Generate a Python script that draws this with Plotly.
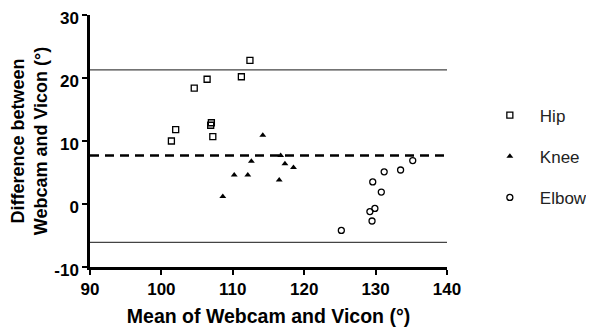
import plotly.graph_objects as go

hip_x = [101.4, 102.0, 104.6, 106.4, 107.0, 106.9, 107.2, 111.2, 112.4]
hip_y = [10.0, 11.8, 18.4, 19.8, 12.9, 12.5, 10.7, 20.2, 22.8]
knee_x = [114.2, 112.6, 108.6, 110.2, 112.1, 116.5, 116.7, 117.3, 118.5]
knee_y = [10.9, 6.8, 1.2, 4.6, 4.6, 3.8, 7.7, 6.4, 5.8]
elbow_x = [125.2, 129.2, 129.9, 129.5, 129.6, 130.8, 131.2, 133.5, 135.2]
elbow_y = [-4.2, -1.2, -0.7, -2.7, 3.5, 1.9, 5.1, 5.4, 6.9]
mean_diff = 7.7
upper_loa = 21.3
lower_loa = -6.1
x_ticks = [90, 100, 110, 120, 130, 140]
y_ticks = [-10, 0, 10, 20, 30]

FONT = "Arial, Liberation Sans, sans-serif"

fig = go.Figure()
fig.add_trace(go.Scatter(x=hip_x, y=hip_y, mode="markers", name="Hip", legendgroup="a",
                         marker=dict(symbol="square-open", size=6, color="black", line=dict(width=1.3))))
fig.add_trace(go.Scatter(x=knee_x, y=knee_y, mode="markers", name="Knee", legendgroup="b",
                         marker=dict(symbol="triangle-up", size=6, color="black")))
fig.add_trace(go.Scatter(x=elbow_x, y=elbow_y, mode="markers", name="Elbow", legendgroup="c",
                         marker=dict(symbol="circle-open", size=6, color="black", line=dict(width=1.3))))

fig.add_shape(type="line", xref="x", yref="y", x0=90, x1=140, y0=upper_loa, y1=upper_loa,
              line=dict(color="#444", width=1.3))
fig.add_shape(type="line", xref="x", yref="y", x0=90, x1=140, y0=lower_loa, y1=lower_loa,
              line=dict(color="#444", width=1.3))
fig.add_shape(type="line", xref="x", yref="y", x0=90, x1=140, y0=mean_diff, y1=mean_diff,
              line=dict(color="black", width=2.5, dash="9px,6px"))

fig.update_layout(
    width=594, height=328,
    margin=dict(l=82, r=155, t=7, b=69, autoexpand=False),
    paper_bgcolor="white", plot_bgcolor="white",
    font=dict(family=FONT, color="black"),
    showlegend=True,
    legend=dict(x=1.092, y=0.672, xanchor="left", yanchor="top", traceorder="grouped",
                tracegroupgap=16, itemwidth=50, font=dict(size=17, family=FONT, color="#222"),
                bgcolor="rgba(0,0,0,0)"),
    xaxis=dict(range=[90, 140], tickvals=x_ticks, ticktext=[f"<b>{v}</b>" for v in x_ticks],
               showgrid=False, zeroline=False, automargin=False, ticklabeloverflow="allow",
               showline=True, linecolor="black", linewidth=2.5,
               ticks="outside", ticklen=5, tickwidth=2, tickcolor="black",
               tickfont=dict(size=17, family=FONT),
               title=dict(text="<b>Mean of Webcam and Vicon (°)</b>", font=dict(size=19.5), standoff=12)),
    yaxis=dict(range=[-10, 30], tickvals=y_ticks, ticktext=[f"<b>{v}</b>" for v in y_ticks],
               showgrid=False, zeroline=False, automargin=False, ticklabeloverflow="allow",
               ticklabelshift=3,
               showline=True, linecolor="black", linewidth=2.5,
               ticks="outside", ticklen=5, tickwidth=2, tickcolor="black",
               tickfont=dict(size=17, family=FONT),
               title=dict(text="<b>Difference between<br>Webcam and Vicon (°)</b>", font=dict(size=18), standoff=10)),
)

fig.write_html("out.html")
